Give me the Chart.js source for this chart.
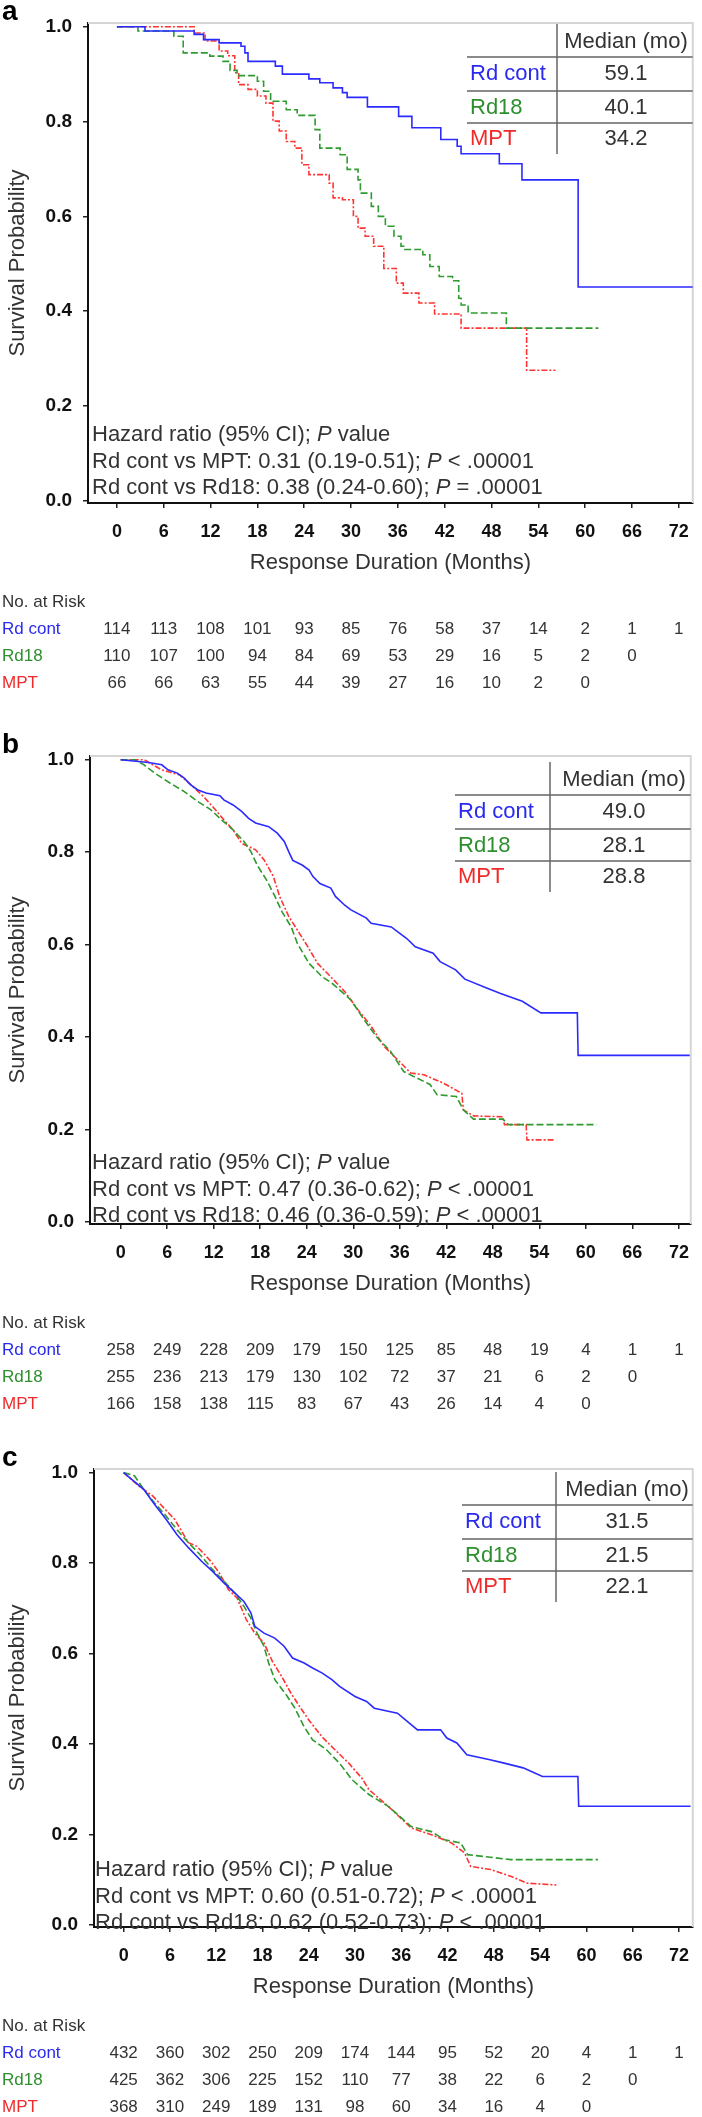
<!DOCTYPE html>
<html>
<head>
<meta charset="utf-8">
<script src="https://cdn.jsdelivr.net/npm/chart.js@4.4.1/dist/chart.umd.min.js"></script>
<style>
  body { margin: 0; background: #fff; }
  #wrap { position: relative; width: 702px; height: 2117px; }
  canvas { position: absolute; left: 0; }
</style>
</head>
<body>
<div id="wrap">
  <canvas id="panel-a" width="702" height="712" style="top:0px"></canvas>
  <canvas id="panel-b" width="702" height="700" style="top:720px"></canvas>
  <canvas id="panel-c" width="702" height="687" style="top:1430px"></canvas>
</div>
<script>
// ---- shared axis values ----
const xTicks = [0, 6, 12, 18, 24, 30, 36, 42, 48, 54, 60, 66, 72];
const yTicks = [0, 0.2, 0.4, 0.6, 0.8, 1.0];
const groups = ['Rd cont', 'Rd18', 'MPT'];

// ---- panel a: survival curves (months, probability) ----
const aRdT = [0, 3.6, 9.9, 11.1, 13.1, 15.9, 16.4, 16.8, 20.3, 21.2, 24.6, 26.0, 27.7, 28.9, 29.5, 32.1, 36.1, 37.8, 41.5, 43.6, 44.1, 49.0, 51.9, 59.1, 73.8];
const aRdS = [1, .991, .984, .973, .966, .959, .945, .927, .917, .900, .890, .882, .871, .861, .851, .831, .811, .787, .762, .748, .732, .711, .677, .451, .451];
const aR18T = [0, 2.7, 7.3, 8.5, 11.9, 13.6, 14.5, 15.4, 18.0, 18.8, 19.7, 21.7, 23.1, 25.4, 26.0, 28.6, 29.5, 30.9, 31.2, 32.6, 33.5, 34.4, 35.5, 36.4, 36.9, 39.2, 40.1, 41.3, 43.0, 43.8, 44.1, 45.0, 49.9, 61.7];
const aR18S = [1, .991, .980, .945, .938, .927, .908, .897, .885, .864, .843, .825, .813, .783, .744, .730, .699, .677, .649, .621, .600, .579, .558, .537, .530, .519, .494, .473, .464, .427, .413, .396, .364, .364];
const aMptT = [0, 9.9, 11.3, 13.1, 14.2, 15.1, 15.6, 16.8, 18.0, 19.1, 20.0, 20.8, 21.7, 22.8, 23.7, 24.6, 27.2, 27.7, 28.9, 30.3, 30.9, 31.8, 32.9, 34.2, 35.8, 36.7, 38.7, 40.7, 44.1, 52.5, 56.2];
const aMptS = [1, .987, .970, .949, .939, .903, .878, .868, .854, .839, .801, .780, .758, .744, .709, .688, .670, .639, .635, .600, .575, .558, .537, .490, .459, .438, .417, .394, .364, .275, .275];
const aRiskRd = [114, 113, 108, 101, 93, 85, 76, 58, 37, 14, 2, 1, 1];
const aRiskR18 = [110, 107, 100, 94, 84, 69, 53, 29, 16, 5, 2, 0];
const aRiskMpt = [66, 66, 63, 55, 44, 39, 27, 16, 10, 2, 0];
const aMedian = ['59.1', '40.1', '34.2'];
const aHr = ['0.31 (0.19-0.51); ', '< .00001', '0.38 (0.24-0.60); ', '= .00001'];

// ---- panel b ----
const bRdT = [0, 3.6, 5.3, 6.1, 7.3, 8.2, 9.0, 9.9, 11.0, 12.8, 13.3, 14.5, 15.6, 16.5, 17.4, 19.1, 20.2, 21.1, 21.7, 22.2, 23.4, 24.3, 24.8, 25.7, 27.1, 27.7, 28.9, 29.7, 31.7, 32.3, 34.9, 35.7, 36.9, 38.0, 40.3, 41.2, 43.2, 44.4, 47.2, 49.0, 51.8, 54.2, 58.9, 59.0, 73.4];
const bRdS = [1, .994, .989, .978, .971, .960, .946, .935, .928, .922, .913, .902, .888, .873, .863, .855, .841, .823, .800, .782, .772, .761, .747, .732, .722, .704, .685, .675, .657, .646, .638, .628, .613, .595, .581, .563, .545, .525, .506, .494, .477, .452, .452, .360, .360];
const bR18T = [0, 1.8, 3.0, 4.4, 6.4, 8.2, 9.9, 11.6, 13.0, 14.5, 15.9, 16.8, 17.6, 18.8, 19.9, 20.8, 22.0, 22.8, 24.3, 26.0, 27.2, 29.7, 31.4, 33.1, 34.8, 36.5, 38.2, 39.9, 40.8, 43.3, 44.2, 45.5, 49.3, 50.0, 61.4];
const bR18S = [1, 1, .989, .971, .949, .931, .910, .892, .870, .848, .823, .801, .772, .740, .704, .671, .638, .602, .559, .530, .517, .480, .437, .398, .369, .325, .311, .297, .275, .271, .242, .222, .222, .210, .210];
const bMptT = [0, 3.0, 5.3, 7.6, 9.3, 10.7, 12.2, 13.3, 14.5, 15.6, 17.4, 18.5, 19.7, 20.5, 21.7, 22.8, 24.0, 25.4, 27.1, 28.9, 30.6, 32.3, 34.0, 35.7, 37.4, 39.1, 41.6, 44.0, 44.2, 45.5, 49.3, 49.5, 52.3, 52.4, 56.1];
const bMptS = [1, 1, .978, .967, .942, .920, .892, .870, .848, .819, .805, .783, .747, .704, .660, .631, .599, .559, .530, .498, .459, .423, .379, .351, .322, .318, .300, .278, .242, .229, .227, .210, .210, .177, .177];
const bRiskRd = [258, 249, 228, 209, 179, 150, 125, 85, 48, 19, 4, 1, 1];
const bRiskR18 = [255, 236, 213, 179, 130, 102, 72, 37, 21, 6, 2, 0];
const bRiskMpt = [166, 158, 138, 115, 83, 67, 43, 26, 14, 4, 0];
const bMedian = ['49.0', '28.1', '28.8'];
const bHr = ['0.47 (0.36-0.62); ', '< .00001', '0.46 (0.36-0.59); ', '< .00001'];

// ---- panel c ----
const cRdT = [0, 2.6, 4.0, 5.5, 6.9, 8.4, 10.1, 11.5, 13.0, 14.4, 15.6, 16.5, 17.0, 18.2, 19.6, 20.8, 21.9, 23.4, 24.5, 25.7, 27.0, 28.0, 30.0, 31.5, 32.5, 35.5, 38.1, 41.1, 41.9, 43.2, 44.5, 47.5, 49.2, 51.8, 54.3, 58.9, 59.0, 73.5];
const cRdS = [1, .963, .930, .897, .863, .834, .804, .782, .756, .734, .715, .690, .660, .645, .634, .616, .590, .579, .568, .557, .542, .527, .505, .494, .479, .468, .431, .431, .413, .402, .376, .365, .358, .347, .328, .328, .262, .262];
const cR18T = [0, 1.4, 2.6, 4.0, 5.5, 6.9, 8.4, 10.1, 11.5, 13.0, 14.4, 15.6, 16.5, 17.3, 18.2, 18.8, 19.6, 21.1, 22.2, 23.4, 24.5, 26.3, 28.0, 29.6, 31.8, 34.3, 37.3, 39.9, 41.6, 43.7, 44.6, 50.2, 61.5];
const cR18S = [1, .993, .963, .933, .904, .874, .845, .815, .786, .760, .734, .704, .678, .645, .616, .579, .542, .508, .479, .438, .409, .387, .357, .321, .288, .262, .217, .206, .188, .181, .155, .144, .144];
const cMptT = [0, 2.0, 3.8, 5.2, 6.6, 8.4, 9.5, 11.3, 12.4, 13.6, 14.7, 15.9, 17.0, 18.2, 19.3, 20.5, 21.7, 22.8, 24.0, 25.7, 27.4, 29.2, 30.9, 31.8, 34.3, 37.3, 39.9, 42.5, 44.2, 45.0, 47.6, 50.2, 52.3, 56.1];
const cMptS = [1, .970, .948, .922, .897, .845, .837, .804, .778, .741, .723, .675, .645, .623, .582, .549, .512, .483, .453, .416, .387, .357, .324, .299, .262, .214, .199, .181, .159, .129, .122, .107, .092, .088];
const cRiskRd = [432, 360, 302, 250, 209, 174, 144, 95, 52, 20, 4, 1, 1];
const cRiskR18 = [425, 362, 306, 225, 152, 110, 77, 38, 22, 6, 2, 0];
const cRiskMpt = [368, 310, 249, 189, 131, 98, 60, 34, 16, 4, 0];
const cMedian = ['31.5', '21.5', '22.1'];
const cHr = ['0.60 (0.51-0.72); ', '< .00001', '0.62 (0.52-0.73); ', '< .00001'];

// ---- styling ----
const FONT = "'Liberation Sans', Arial, Helvetica, sans-serif";
const lineColors = ['#2b2bff', '#2f9a2f', '#ff3535'];
const textColors = ['#2a2aee', '#2d8f2d', '#f02a2a'];
const dashes = [[], [7, 3], [6, 2, 2, 2]];
const XH = 73; // forced height of the x axis box

// layout of each panel on the page (canvas coordinates)
const panels = [
  { id: 'panel-a', label: 'a', T: 23, B: 503, L: 88, R: 695, t0: 117, t72: 681,
    tabL: 470, tabV: 557, tabC: 626, tabTop: 0, hrTop: -68, hrX: 92, stepped: 'before',
    curves: [[aRdT, aRdS], [aR18T, aR18S], [aMptT, aMptS]],
    risk: [aRiskRd, aRiskR18, aRiskMpt], med: aMedian, hr: aHr },
  { id: 'panel-b', label: 'b', T: 36, B: 504, L: 90, R: 697, t0: 121, t72: 685,
    tabL: 458, tabV: 550, tabC: 624, tabTop: 5, hrTop: -61, hrX: 92, stepped: false,
    curves: [[bRdT, bRdS], [bR18T, bR18S], [bMptT, bMptS]],
    risk: [bRiskRd, bRiskR18, bRiskMpt], med: bMedian, hr: bHr },
  { id: 'panel-c', label: 'c', T: 39, B: 497, L: 94, R: 700, t0: 124, t72: 686,
    tabL: 465, tabV: 556, tabC: 627, tabTop: 2, hrTop: -57, hrX: 95, stepped: false,
    curves: [[cRdT, cRdS], [cR18T, cR18S], [cMptT, cMptS]],
    risk: [cRiskRd, cRiskR18, cRiskMpt], med: cMedian, hr: cHr }
];

function drawRich(ctx, parts, x, y) {
  let cx = x;
  parts.forEach(([txt, italic]) => {
    ctx.font = (italic ? 'italic ' : '') + '22px ' + FONT;
    ctx.fillText(txt, cx, y);
    cx += ctx.measureText(txt).width;
  });
}

function makeExtras(p) {
  return {
    id: 'extras',
    beforeDatasetsDraw(chart) {
      const { ctx, chartArea: a } = chart;
      ctx.save();
      ctx.strokeStyle = '#d6d6d6';
      ctx.lineWidth = 2;
      ctx.beginPath();
      ctx.moveTo(a.left, a.top);
      ctx.lineTo(a.right, a.top);
      ctx.lineTo(a.right, a.bottom);
      ctx.stroke();
      ctx.restore();
    },
    afterDraw(chart) {
      const { ctx, chartArea: a } = chart;
      const xs = chart.scales.x;
      ctx.save();

      // panel letter
      ctx.fillStyle = '#000';
      ctx.font = 'bold 28px ' + FONT;
      ctx.textBaseline = 'middle';
      ctx.textAlign = 'left';
      ctx.fillText(p.label, 2, a.top - 11);

      // median table
      const t0 = a.top + p.tabTop;
      ctx.strokeStyle = '#8a8a8a';
      ctx.lineWidth = 2;
      [34, 68, 100].forEach(dy => {
        ctx.beginPath();
        ctx.moveTo(p.tabL - 3, t0 + dy);
        ctx.lineTo(a.right, t0 + dy);
        ctx.stroke();
      });
      ctx.strokeStyle = '#666';
      ctx.lineWidth = 1.5;
      ctx.beginPath();
      ctx.moveTo(p.tabV, t0 + 1);
      ctx.lineTo(p.tabV, t0 + 131);
      ctx.stroke();
      ctx.font = '22px ' + FONT;
      ctx.textAlign = 'center';
      ctx.fillStyle = '#333';
      ctx.fillText('Median (mo)', p.tabC, t0 + 19);
      [51, 85, 116].forEach((dy, i) => {
        ctx.textAlign = 'center';
        ctx.fillStyle = '#333';
        ctx.fillText(p.med[i], p.tabC, t0 + dy);
        ctx.textAlign = 'left';
        ctx.fillStyle = textColors[i];
        ctx.fillText(groups[i], p.tabL, t0 + dy);
      });

      // hazard ratio text
      ctx.textAlign = 'left';
      ctx.fillStyle = '#333';
      const hy = a.bottom + p.hrTop;
      drawRich(ctx, [['Hazard ratio (95% CI); ', false], ['P', true], [' value', false]], p.hrX, hy);
      drawRich(ctx, [['Rd cont vs MPT: ' + p.hr[0], false], ['P', true], [' ' + p.hr[1], false]], p.hrX, hy + 26.5);
      drawRich(ctx, [['Rd cont vs Rd18: ' + p.hr[2], false], ['P', true], [' ' + p.hr[3], false]], p.hrX, hy + 53);

      // number at risk table
      ctx.font = '17px ' + FONT;
      ctx.fillStyle = '#333';
      ctx.fillText('No. at Risk', 2, a.bottom + 99);
      [126, 153, 180].forEach((dy, i) => {
        ctx.textAlign = 'left';
        ctx.fillStyle = textColors[i];
        ctx.fillText(groups[i], 2, a.bottom + dy);
        ctx.textAlign = 'center';
        ctx.fillStyle = '#333';
        p.risk[i].forEach((n, k) => {
          ctx.fillText(String(n), xs.getPixelForValue(xTicks[k]), a.bottom + dy);
        });
      });
      ctx.restore();
    }
  };
}

panels.forEach(p => {
  const canvas = document.getElementById(p.id);
  const H = canvas.height;
  const ppm = (p.t72 - p.t0) / 72;
  const xMin = xTicks[0] - (p.t0 - p.L) / ppm;
  const xMax = xTicks[xTicks.length - 1] + (p.R - p.t72) / ppm;

  const datasets = p.curves.map(([T, S], i) => ({
    label: groups[i],
    data: T.map((t, k) => ({ x: t, y: S[k] })),
    borderColor: lineColors[i],
    borderWidth: 1.6,
    borderDash: dashes[i],
    pointRadius: 0,
    fill: false,
    stepped: p.stepped,
    tension: 0
  }));

  new Chart(canvas, {
    type: 'line',
    data: { datasets },
    options: {
      responsive: false,
      animation: false,
      events: [],
      layout: { padding: { top: p.T, left: 0, right: 702 - p.R, bottom: H - p.B - XH } },
      plugins: { legend: { display: false }, tooltip: { enabled: false } },
      scales: {
        x: {
          type: 'linear',
          min: xMin,
          max: xMax,
          afterBuildTicks: s => { s.ticks = xTicks.map(v => ({ value: v })); },
          afterFit: s => { s.height = XH; },
          ticks: {
            autoSkip: false, maxRotation: 0, padding: 13,
            color: '#111', font: { family: FONT, size: 18, weight: 'bold' },
            callback: v => String(v)
          },
          grid: { drawOnChartArea: false, drawTicks: true, tickLength: 5, color: '#222', lineWidth: 1.5 },
          border: { display: true, color: '#111', width: 2 },
          title: {
            display: true, text: 'Response Duration (Months)', color: '#333',
            font: { family: FONT, size: 22 }, padding: { top: 0, bottom: 0 }
          }
        },
        y: {
          min: -0.005,
          max: 1.008,
          afterBuildTicks: s => { s.ticks = yTicks.map(v => ({ value: v })); },
          afterFit: s => { s.width = p.L; },
          ticks: {
            padding: 11, color: '#111',
            font: { family: FONT, size: 19, weight: 'bold' },
            callback: v => Number(v).toFixed(1)
          },
          grid: { drawOnChartArea: false, drawTicks: true, tickLength: 5, color: '#222', lineWidth: 1.5 },
          border: { display: true, color: '#111', width: 2 },
          title: {
            display: true, text: 'Survival Probability', color: '#333',
            font: { family: FONT, size: 22 }, padding: { top: 5, bottom: 0 }
          }
        }
      }
    },
    plugins: [makeExtras(p)]
  });
});
</script>
</body>
</html>
